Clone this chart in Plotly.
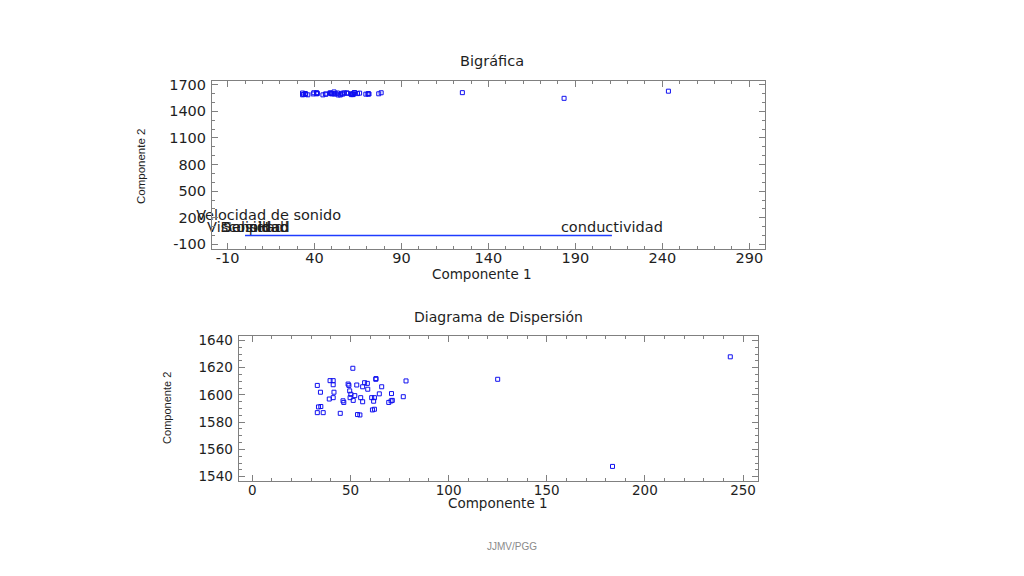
import plotly.graph_objects as go

# ---- data ----
comp1 = [33.1, 34.7, 33.7, 34.9, 33.1, 36.1, 39.6, 41.2, 41.2, 41.6,
         39.2, 41.2, 44.8, 46.2, 46.6, 48.8, 49.2, 49.6, 50.2, 49.8,
         51.2, 51.4, 52.2, 53.2, 53.6, 54.8, 55.2, 56.2, 56.2, 57.2,
         58.6, 58.8, 60.8, 62.2, 61.2, 62.2, 61.8, 62.9, 63.0, 64.7,
         65.9, 69.5, 70.7, 71.3, 70.9, 76.9, 78.3,
         125.0, 183.5, 243.5]
comp2 = [1607.0, 1602.0, 1591.2, 1591.5, 1587.0, 1587.0, 1610.5, 1610.5, 1607.5, 1602.0,
         1597.0, 1598.0, 1586.5, 1595.7, 1594.5, 1608.0, 1607.0, 1603.0, 1600.5, 1598.0,
         1619.6, 1596.0, 1599.5, 1607.3, 1585.6, 1585.3, 1598.0, 1595.0, 1606.0, 1609.0,
         1608.5, 1604.2, 1598.0, 1598.0, 1589.0, 1589.5, 1595.4, 1611.5, 1612.0, 1600.8,
         1606.0, 1594.5, 1595.6, 1596.0, 1601.0, 1598.7, 1610.3,
         1611.5, 1547.5, 1628.0]

var_names = ["conductividad", "Velocidad de sonido", "Viscosidad", "Densidad", "Salinidad", "pH"]
var_x = [211.0, 13.6, 0.3, 5.5, 6.5, 8.0]
var_y = [0.0, 134.0, 0.0, 0.0, 0.0, 0.0]

top_xticks = [-10, 40, 90, 140, 190, 240, 290]
top_yticks = [-100, 200, 500, 800, 1100, 1400, 1700]
bot_xticks = [0, 50, 100, 150, 200, 250]
bot_yticks = [1540, 1560, 1580, 1600, 1620, 1640]

BLUE = "#1010f0"
GREY = "#808080"
TXT = "#1e1e1e"

fig = go.Figure()

# top biplot points
fig.add_trace(go.Scatter(x=comp1, y=comp2, mode="markers", xaxis="x", yaxis="y",
                         marker=dict(symbol="square-open", size=4, color=BLUE,
                                     line=dict(width=1, color=BLUE)),
                         showlegend=False, hoverinfo="skip"))
# variable labels
fig.add_trace(go.Scatter(x=var_x, y=var_y, mode="text", text=var_names,
                         textposition="top center", xaxis="x", yaxis="y",
                         cliponaxis=False,
                         textfont=dict(family="DejaVu Sans", size=14.5, color=TXT),
                         showlegend=False, hoverinfo="skip"))
# variable vector (conductividad)
fig.add_trace(go.Scatter(x=[0, var_x[0]], y=[0, var_y[0]], mode="lines",
                         xaxis="x", yaxis="y", line=dict(color="#1f3cff", width=1.4),
                         showlegend=False, hoverinfo="skip"))
# bottom scatter
fig.add_trace(go.Scatter(x=comp1, y=comp2, mode="markers", xaxis="x2", yaxis="y2",
                         marker=dict(symbol="square-open", size=4, color=BLUE,
                                     line=dict(width=1, color=BLUE)),
                         showlegend=False, hoverinfo="skip"))

def axis_style(tickvals, minor_dtick, font_size, **kw):
    d = dict(showline=True, linecolor=GREY, linewidth=1, mirror="allticks",
             ticks="inside", ticklen=6, tickcolor=GREY, tickwidth=1,
             tickvals=tickvals, ticktext=[str(v) for v in tickvals],
             showgrid=False, zeroline=False,
             tickfont=dict(family="DejaVu Sans", size=font_size, color=TXT),
             minor=dict(ticks="inside", ticklen=3, tickcolor=GREY, dtick=minor_dtick,
                        showgrid=False))
    d.update(kw)
    return d

fig.update_layout(
    width=1024, height=576, autosize=False,
    margin=dict(l=0, r=0, t=0, b=0),
    paper_bgcolor="white", plot_bgcolor="white",
    xaxis=axis_style(top_xticks, 10, 14.5, domain=[0.207, 0.747], range=[-19, 299],
                     anchor="y", tick0=-10, ticklabelstandoff=-5),
    yaxis=axis_style(top_yticks, 100, 14.5, domain=[0.569, 0.865], range=[-155, 1745],
                     anchor="x", tick0=-100, ticklabelstandoff=2),
    xaxis2=axis_style(bot_xticks, 10, 13.5, domain=[0.233, 0.740], range=[-7, 257.5],
                      anchor="y2", tick0=0, ticklabelstandoff=-4),
    yaxis2=axis_style(bot_yticks, 5, 13.5, domain=[0.161, 0.417], range=[1536.5, 1643.5],
                      anchor="x2", tick0=1540, ticklabelstandoff=2),
)

ann = [
    dict(text="Bigráfica", x=0.4805, y=0.899, font=dict(family="DejaVu Sans", size=14.5, color=TXT)),
    dict(text="Componente 1", x=0.4707, y=0.526, font=dict(family="DejaVu Sans", size=13.5, color=TXT)),
    dict(text="Componente 2", x=0.1377, y=0.7135, textangle=-90,
         font=dict(family="Liberation Sans", size=11.5, color=TXT)),
    dict(text="Diagrama de Dispersión", x=0.4873, y=0.4497,
         font=dict(family="DejaVu Sans", size=14, color=TXT)),
    dict(text="Componente 1", x=0.4863, y=0.1233, font=dict(family="DejaVu Sans", size=13.5, color=TXT)),
    dict(text="Componente 2", x=0.163, y=0.29, textangle=-90,
         font=dict(family="Liberation Sans", size=11, color=TXT)),
    dict(text="JJMV/PGG", x=0.5, y=0.0469, font=dict(family="Liberation Sans", size=10, color="#8a8a8a")),
]
for a in ann:
    a.update(xref="paper", yref="paper", showarrow=False, xanchor="center", yanchor="middle")
fig.update_layout(annotations=ann)

fig.write_html("out.html", config={"displayModeBar": False},
               post_script="document.body.style.margin='0';")
